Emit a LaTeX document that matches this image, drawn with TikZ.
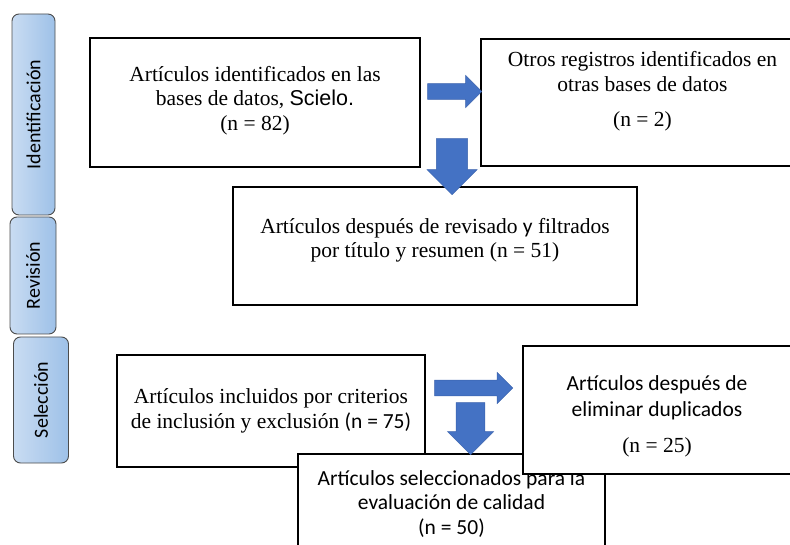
\documentclass[tikz,border=0pt]{standalone}
\usepackage{fontspec}
\setmainfont{Liberation Serif}
\newfontfamily\calibri{Carlito}
\newfontfamily\arial{Liberation Sans}
\usepackage{xcolor}
\usetikzlibrary{shapes,arrows}
\definecolor{arrblue}{HTML}{4472C4}
\definecolor{arrline}{HTML}{3A62AD}
\definecolor{tablight}{HTML}{C9DCF2}
\definecolor{tabdark}{HTML}{9EC1E8}
\begin{document}
\begin{tikzpicture}[x=1pt,y=-1pt,
  box/.style={draw=black,line width=1.4pt,fill=white,align=center,font=\fontsize{21.5}{24.5}\selectfont},
  stage/.style={draw=black!70,line width=0.9pt,rounded corners=7pt,left color=tablight,right color=tabdark,rotate=90,font=\calibri\fontsize{20}{22}\selectfont},
  blockarr/.style={single arrow,draw=arrline,fill=arrblue,line width=0.5pt,single arrow head indent=0pt,inner xsep=0pt,anchor=tip}]
\tikzstyle{every node}+=[inner sep=0pt]
\useasboundingbox (0,0) rectangle (790,545);
\clip (0,0) rectangle (790,545);
\node [stage,minimum width=201,minimum height=43] (ident) at (33.5,114.5) {Identificación};
\node [stage,minimum width=117,minimum height=46] (revis) at (33,275.5) {Revisión};
\node [stage,minimum width=126,minimum height=55] (selec) at (41,400) {Selección};
\node [box,minimum width=330,minimum height=129] (ident1) at (255,102.5) {Artículos identificados en las\\ bases de datos, {\arial Scielo.}\\ (n = 82)\\[-16pt] \mbox{}};
\node [box,minimum width=323,minimum height=127] (ident2) at (642.5,102.5) {Otros registros identificados en\\ otras bases de datos\\[11pt] (n = 2)\\[2.5pt] \mbox{}};
\node [box,minimum width=404,minimum height=118] (revis1) at (435,246) {Artículos después de revisado {\calibri y} filtrados\\ por título y resumen (n = 51)\\[-8pt] \mbox{}};
\node [box,minimum width=308,minimum height=112] (selec1) at (271,411) {Artículos incluidos por criterios\\ de inclusión y exclusión {\calibri (n = 75)}};
\node [box,minimum width=307,minimum height=100,font=\calibri\fontsize{21.5}{24.5}\selectfont] (selec3) at (451.5,504) {Artículos seleccionados para la\\ evaluación de calidad\\ (n = 50)};
\node [box,minimum width=268,minimum height=128,font=\fontsize{21.5}{26}\selectfont] (selec2) at (657,410) {\mbox{}\\[1pt] {\calibri Artículos después de}\\ {\calibri eliminar duplicados}\\[10pt] (n = 25)};
\node [blockarr,minimum height=54,minimum width=32,inner ysep=6.5] (a1) at (482,91.5) {};
\node [blockarr,minimum height=56,minimum width=50,inner ysep=11.5,rotate=-90] (a2) at (452,195) {};
\node [blockarr,minimum height=78,minimum width=31,inner ysep=7] (a3) at (513,388) {};
\node [blockarr,minimum height=52,minimum width=46,inner ysep=11.5,rotate=-90] (a4) at (470.5,455) {};
\end{tikzpicture}
\end{document}
